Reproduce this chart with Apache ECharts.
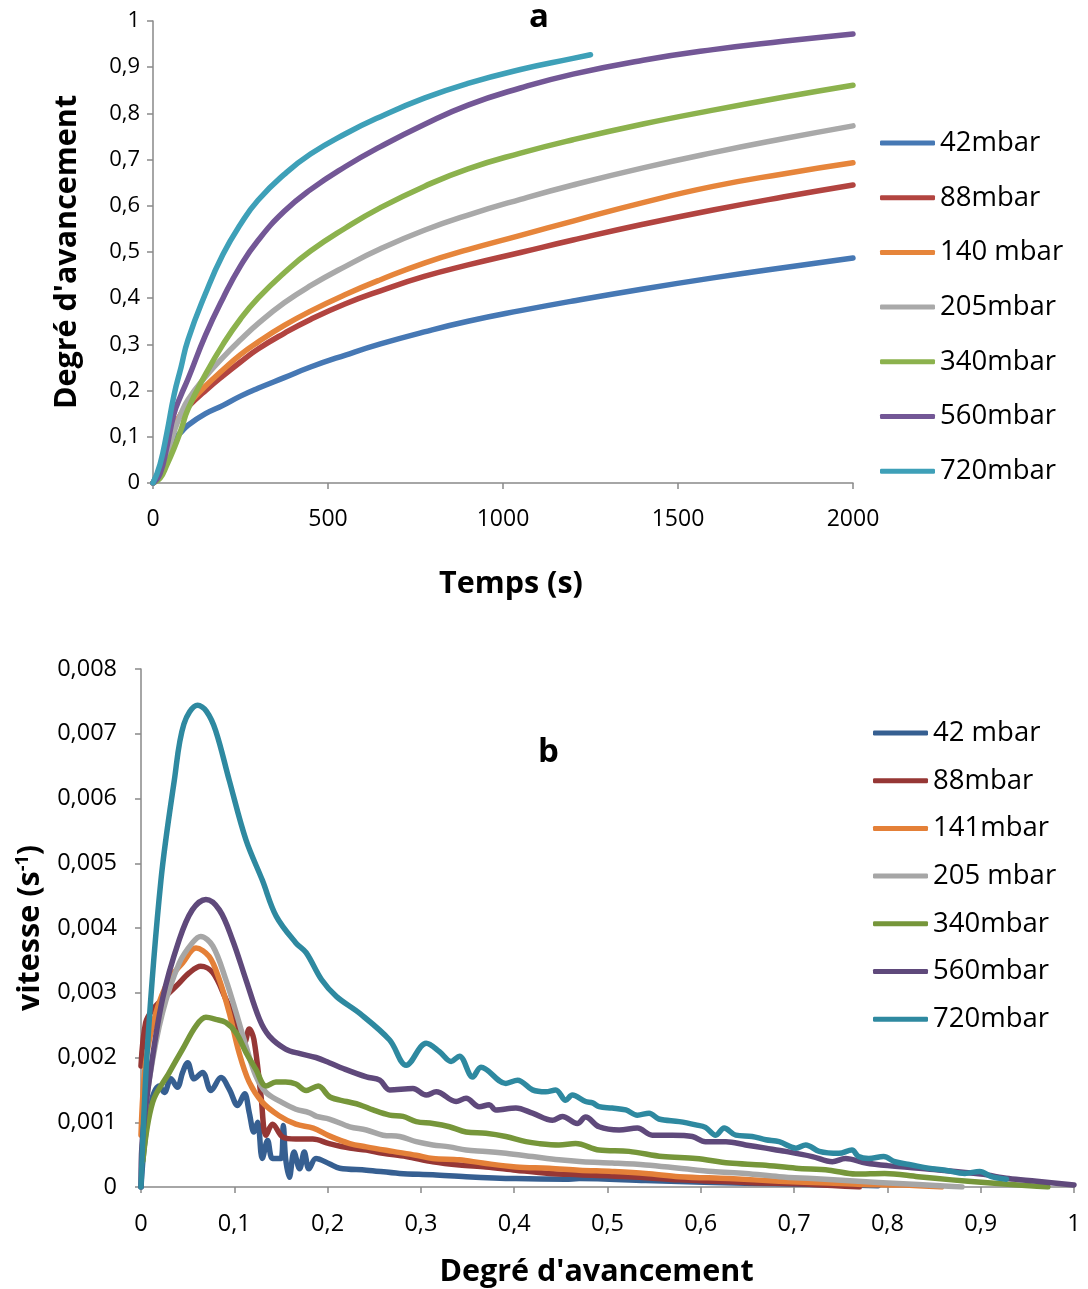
<!DOCTYPE html>
<html>
<head>
<meta charset="utf-8">
<script src="https://cdn.jsdelivr.net/npm/echarts@6/dist/echarts.min.js"></script>
<style>
html,body{margin:0;padding:0;background:#fff;}
#c{width:1088px;height:1289px;}
</style>
</head>
<body>
<div id="c"></div>
<script>
// ---------- Chart a : Degré d'avancement vs Temps (s) ----------
const timeA = [0, 20, 40, 60, 80, 100, 150, 200, 250, 300, 375, 450, 550, 650, 775, 900, 1050, 1200, 1400, 1600, 1800, 2000];
const time720 = [0, 20, 40, 60, 80, 100, 150, 200, 250, 300, 375, 450, 550, 650, 775, 900, 1050, 1200, 1250];
const a42  = [0, 0.03, 0.07, 0.095, 0.11, 0.125, 0.15, 0.168, 0.188, 0.205, 0.228, 0.251, 0.277, 0.301, 0.327, 0.35, 0.373, 0.394, 0.42, 0.444, 0.466, 0.487];
const a88  = [0, 0.03, 0.075, 0.12, 0.148, 0.165, 0.2, 0.232, 0.262, 0.29, 0.324, 0.354, 0.388, 0.416, 0.447, 0.472, 0.499, 0.526, 0.56, 0.591, 0.619, 0.645];
const a140 = [0, 0.03, 0.075, 0.12, 0.15, 0.17, 0.21, 0.245, 0.278, 0.305, 0.341, 0.372, 0.408, 0.44, 0.476, 0.505, 0.536, 0.567, 0.607, 0.642, 0.669, 0.693];
const a205 = [0, 0.02, 0.06, 0.11, 0.15, 0.18, 0.23, 0.272, 0.31, 0.345, 0.39, 0.427, 0.469, 0.507, 0.547, 0.58, 0.614, 0.645, 0.682, 0.715, 0.745, 0.773];
const a340 = [0, 0.01, 0.04, 0.075, 0.115, 0.16, 0.235, 0.3, 0.355, 0.4, 0.455, 0.502, 0.552, 0.596, 0.642, 0.68, 0.714, 0.743, 0.777, 0.807, 0.835, 0.861];
const a560 = [0, 0.02, 0.08, 0.15, 0.19, 0.225, 0.32, 0.4, 0.47, 0.525, 0.588, 0.635, 0.685, 0.728, 0.776, 0.818, 0.855, 0.885, 0.915, 0.938, 0.956, 0.972];
const a720 = [0, 0.04, 0.11, 0.19, 0.25, 0.31, 0.41, 0.495, 0.56, 0.612, 0.668, 0.712, 0.756, 0.793, 0.833, 0.865, 0.895, 0.919, 0.927];
const namesA = ['42mbar', '88mbar', '140 mbar', '205mbar', '340mbar', '560mbar', '720mbar'];
const colorsA = ['#4678B4', '#B24440', '#E6853B', '#A9A9A9', '#8CB24D', '#735796', '#3EA0B8'];

// ---------- Chart b : vitesse vs Degré d'avancement ----------
const b42 = [[0,0],[0.0036,0.00064],[0.0107,0.00131],[0.0196,0.00156],[0.025,0.00146],[0.032,0.00167],[0.039,0.00154],[0.0446,0.00177],[0.05,0.00192],[0.057,0.00167],[0.066,0.00177],[0.075,0.00149],[0.0857,0.00169],[0.0946,0.00151],[0.1036,0.00126],[0.111,0.00144],[0.116,0.00115],[0.121,0.00085],[0.125,0.001],[0.13,0.00044],[0.1357,0.00072],[0.141,0.00044],[0.15,0.00044],[0.1525,0.00095],[0.155,0.00044],[0.159,0.00015],[0.164,0.00054],[0.17,0.00028],[0.175,0.00054],[0.18,0.00028],[0.1875,0.00044],[0.2018,0.00036],[0.213,0.00029],[0.2416,0.00026],[0.2772,0.00021],[0.3128,0.00019],[0.3484,0.00016],[0.4018,0.00013],[0.4552,0.00012],[0.4696,0.00013],[0.541,0.0001],[0.6125,0.00007],[0.684,0.00005],[0.755,0.00003],[0.79,0.00002]];
const b88 = [[0,0.00187],[0.005,0.00254],[0.0125,0.00274],[0.023,0.0029],[0.0375,0.0031],[0.052,0.00331],[0.064,0.00341],[0.077,0.00331],[0.091,0.0029],[0.102,0.00254],[0.111,0.00223],[0.116,0.00244],[0.121,0.00228],[0.1286,0.00141],[0.134,0.0008],[0.141,0.00097],[0.152,0.00077],[0.166,0.00074],[0.184,0.00074],[0.2018,0.00067],[0.2238,0.0006],[0.2416,0.00057],[0.2594,0.00052],[0.2843,0.00047],[0.3128,0.00039],[0.3413,0.00034],[0.3697,0.00031],[0.4018,0.00026],[0.4374,0.00021],[0.4696,0.00019],[0.523,0.00016],[0.577,0.00011],[0.648,0.00007],[0.72,0.00004],[0.77,0]];
const b141 = [[0,0.0008],[0.005,0.00192],[0.016,0.00269],[0.03,0.0032],[0.0446,0.00346],[0.059,0.00369],[0.073,0.00356],[0.084,0.0032],[0.0946,0.00269],[0.105,0.00208],[0.116,0.00162],[0.13,0.00131],[0.148,0.0011],[0.166,0.00097],[0.1847,0.00091],[0.2018,0.00079],[0.2238,0.00067],[0.2416,0.00062],[0.27,0.00055],[0.295,0.00049],[0.3128,0.00044],[0.3413,0.00042],[0.3662,0.00037],[0.4018,0.00031],[0.4374,0.00029],[0.4696,0.00026],[0.505,0.00024],[0.541,0.00021],[0.577,0.00016],[0.6304,0.00013],[0.684,0.00009],[0.7375,0.00006],[0.773,0.00004],[0.815,0.00003],[0.858,0]];
const b205 = [[0.002,0.0008],[0.009,0.00167],[0.023,0.00269],[0.041,0.00346],[0.055,0.00377],[0.064,0.00387],[0.077,0.00372],[0.091,0.0032],[0.102,0.00269],[0.1125,0.00218],[0.123,0.00172],[0.134,0.00146],[0.148,0.00133],[0.166,0.0012],[0.18,0.00115],[0.1883,0.00109],[0.2018,0.00105],[0.2238,0.00093],[0.2416,0.00088],[0.2594,0.0008],[0.2772,0.00078],[0.295,0.0007],[0.3128,0.00065],[0.3306,0.00062],[0.3484,0.00057],[0.3697,0.00055],[0.391,0.00052],[0.4196,0.00047],[0.448,0.00042],[0.473,0.00039],[0.505,0.00037],[0.541,0.00034],[0.577,0.00029],[0.6125,0.00024],[0.648,0.00021],[0.684,0.00016],[0.7196,0.00013],[0.7554,0.0001],[0.79,0.00007],[0.833,0.00004],[0.88,0]];
const b340 = [[0.002,0.0004],[0.0125,0.00131],[0.0304,0.00177],[0.0446,0.00213],[0.059,0.00249],[0.0696,0.00262],[0.08,0.00259],[0.091,0.00254],[0.102,0.00238],[0.1125,0.00208],[0.123,0.00182],[0.134,0.00156],[0.1446,0.00162],[0.155,0.00162],[0.166,0.00159],[0.177,0.00149],[0.19,0.00156],[0.2025,0.00139],[0.2203,0.00132],[0.2345,0.00127],[0.2487,0.00119],[0.2665,0.00111],[0.2808,0.00109],[0.295,0.00101],[0.3128,0.00098],[0.3306,0.00093],[0.3484,0.00085],[0.3697,0.00083],[0.391,0.00078],[0.4125,0.0007],[0.4267,0.00067],[0.448,0.00065],[0.4658,0.00067],[0.491,0.00057],[0.523,0.00055],[0.559,0.00047],[0.5946,0.00044],[0.6304,0.00037],[0.666,0.00034],[0.702,0.00029],[0.7375,0.00026],[0.766,0.0002],[0.797,0.00021],[0.833,0.00016],[0.869,0.00011],[0.904,0.00007],[0.94,0.00003],[0.972,0]];
const b560 = [[0,0],[0.001,0.00064],[0.009,0.00167],[0.023,0.0029],[0.041,0.00382],[0.055,0.00428],[0.0696,0.00444],[0.084,0.00428],[0.098,0.00382],[0.1125,0.0032],[0.127,0.00259],[0.1375,0.00233],[0.155,0.00213],[0.1705,0.00206],[0.1875,0.002],[0.2018,0.00192],[0.2167,0.00183],[0.2416,0.0017],[0.2559,0.00165],[0.2665,0.0015],[0.2915,0.00152],[0.3057,0.00142],[0.3164,0.00147],[0.3377,0.00132],[0.3484,0.00137],[0.3626,0.00124],[0.3733,0.00127],[0.3804,0.00119],[0.4018,0.00122],[0.4196,0.00114],[0.441,0.00103],[0.4516,0.00109],[0.4676,0.00098],[0.4765,0.00108],[0.491,0.00093],[0.5125,0.00088],[0.532,0.00091],[0.548,0.0008],[0.5696,0.0008],[0.591,0.00078],[0.605,0.0007],[0.627,0.0007],[0.648,0.00065],[0.6696,0.0006],[0.691,0.00055],[0.7196,0.00047],[0.741,0.00039],[0.755,0.00044],[0.777,0.00037],[0.8,0.00033],[0.85,0.00027],[0.9,0.0002],[0.93,0.00013],[0.96,0.00009],[1.0,0.00003]];
const b720 = [[0,0],[0.007,0.00218],[0.0214,0.00474],[0.0357,0.00628],[0.046,0.00715],[0.0607,0.00744],[0.07,0.00735],[0.08,0.00705],[0.0946,0.00628],[0.1125,0.00536],[0.13,0.00474],[0.145,0.00418],[0.166,0.00377],[0.177,0.00362],[0.1936,0.0032],[0.2096,0.00294],[0.2345,0.00268],[0.2665,0.00227],[0.2843,0.00188],[0.3057,0.00222],[0.32,0.00209],[0.3324,0.00194],[0.3413,0.00202],[0.3555,0.0017],[0.3644,0.00185],[0.3911,0.0016],[0.4036,0.00165],[0.4196,0.0015],[0.4338,0.00147],[0.4445,0.0015],[0.4552,0.00134],[0.4623,0.00142],[0.4765,0.00132],[0.484,0.0013],[0.491,0.00124],[0.505,0.00122],[0.5196,0.00119],[0.532,0.00111],[0.5446,0.00114],[0.555,0.00105],[0.577,0.00101],[0.5946,0.00096],[0.605,0.00092],[0.616,0.0008],[0.625,0.00091],[0.6375,0.0008],[0.655,0.00078],[0.6696,0.00073],[0.684,0.0007],[0.702,0.0006],[0.7125,0.00065],[0.727,0.00055],[0.748,0.00052],[0.762,0.00057],[0.769,0.00047],[0.78,0.00044],[0.796,0.00047],[0.808,0.00039],[0.826,0.00034],[0.844,0.00029],[0.8617,0.00026],[0.883,0.00021],[0.899,0.00024],[0.9116,0.00016],[0.9276,0.00012]];
const namesB = ['42 mbar', '88mbar', '141mbar', '205 mbar', '340mbar', '560mbar', '720mbar'];
const colorsB = ['#365F91', '#963735', '#E48038', '#A6A6A6', '#76963A', '#5F497B', '#2E89A0'];

const FONT = 'Open Sans';
const AXC = '#898989';

const seriesA = [a42, a88, a140, a205, a340, a560, a720];
const timesA = [timeA, timeA, timeA, timeA, timeA, timeA, time720];
const seriesB = [b42, b88, b141, b205, b340, b560, b720];

function commaFmt(dec) {
  return function (v) {
    if (Math.abs(v) < 1e-12) return '0';
    if (Math.abs(v - 1) < 1e-12) return '1';
    return v.toFixed(dec).replace('.', ',');
  };
}

function axisBase() {
  return {
    axisLine: { show: true, lineStyle: { color: AXC, width: 1.5 } },
    axisTick: { show: true, length: 6, lineStyle: { color: AXC, width: 1.5 } },
    splitLine: { show: false }
  };
}

const series = [];
seriesA.forEach(function (vals, i) {
  const ts = timesA[i];
  series.push({
    name: namesA[i], type: 'line', xAxisIndex: 0, yAxisIndex: 0,
    data: vals.map(function (v, k) { return [ts[k], v]; }),
    smooth: 0.5, showSymbol: false, symbol: 'none', animation: false,
    lineStyle: { color: colorsA[i], width: 5.5, cap: 'round', join: 'round' },
    itemStyle: { color: colorsA[i] }
  });
});
seriesB.forEach(function (pts, i) {
  series.push({
    name: 'b:' + namesB[i], type: 'line', xAxisIndex: 1, yAxisIndex: 1,
    data: pts, smooth: 0.35, showSymbol: false, symbol: 'none', animation: false,
    lineStyle: { color: colorsB[i], width: 5.5, cap: 'round', join: 'round' },
    itemStyle: { color: colorsB[i] }
  });
});

const nameStyle = { fontFamily: FONT, fontWeight: 'bold', fontSize: 30.5, color: '#000' };

const option = {
  backgroundColor: '#fff',
  animation: false,
  title: [
    { text: 'a', left: 524, top: -4, textStyle: { fontFamily: FONT, fontWeight: 'bold', fontSize: 33, color: '#000' } },
    { text: 'b', left: 533, top: 731, textStyle: { fontFamily: FONT, fontWeight: 'bold', fontSize: 33, color: '#000' } }
  ],
  legend: [
    {
      data: namesA, orient: 'vertical', left: 875, top: 123,
      icon: 'roundRect', itemWidth: 55, itemHeight: 5, itemGap: 24.7,
      textStyle: { fontFamily: FONT, fontSize: 27.5, color: '#000', lineHeight: 30 },
      selectedMode: false
    },
    {
      data: namesB.map(function (n) { return 'b:' + n; }), orient: 'vertical', left: 868, top: 713,
      icon: 'roundRect', itemWidth: 55, itemHeight: 5, itemGap: 17.7,
      formatter: function (n) { return n.replace(/^b:/, ''); },
      textStyle: { fontFamily: FONT, fontSize: 27.5, color: '#000', lineHeight: 30 },
      selectedMode: false
    }
  ],
  grid: [
    { left: 153, top: 21, width: 700, height: 462 },
    { left: 141, top: 669, width: 933, height: 518 }
  ],
  xAxis: [
    Object.assign(axisBase(), {
      type: 'value', gridIndex: 0, min: 0, max: 2000, interval: 500,
      name: 'Temps (s)', nameLocation: 'middle', nameGap: 86,
      nameTextStyle: Object.assign({}, nameStyle, { padding: [0, 0, 0, 16] }),
      axisLabel: { fontFamily: FONT, fontSize: 23, color: '#000', margin: 25, formatter: function (v) { return String(v); } }
    }),
    Object.assign(axisBase(), {
      type: 'value', gridIndex: 1, min: 0, max: 1, interval: 0.1,
      name: "Degré d'avancement", nameLocation: 'middle', nameGap: 70,
      nameTextStyle: Object.assign({}, nameStyle, { padding: [0, 22, 0, 0] }),
      axisLabel: { fontFamily: FONT, fontSize: 23.5, color: '#000', margin: 25, formatter: commaFmt(1) }
    })
  ],
  yAxis: [
    Object.assign(axisBase(), {
      type: 'value', gridIndex: 0, min: 0, max: 1, interval: 0.1,
      name: "Degré d'avancement", nameLocation: 'middle', nameGap: 70,
      nameTextStyle: nameStyle,
      axisLabel: { fontFamily: FONT, fontSize: 22, color: '#000', margin: 13, formatter: commaFmt(1) }
    }),
    Object.assign(axisBase(), {
      type: 'value', gridIndex: 1, min: 0, max: 0.008, interval: 0.001,
      name: 'vitesse (s{sup|-1})', nameLocation: 'middle', nameGap: 95,
      nameTextStyle: Object.assign({}, nameStyle, {
        rich: { sup: { fontFamily: FONT, fontWeight: 'bold', fontSize: 18, verticalAlign: 'top', padding: [0, 0, 14, 0] } }
      }),
      axisLabel: { fontFamily: FONT, fontSize: 23.5, color: '#000', margin: 24, formatter: commaFmt(3) }
    })
  ],
  series: series
};

const chart = echarts.init(document.getElementById('c'), null, { renderer: 'canvas' });
chart.setOption(option);
</script>
</body>
</html>
